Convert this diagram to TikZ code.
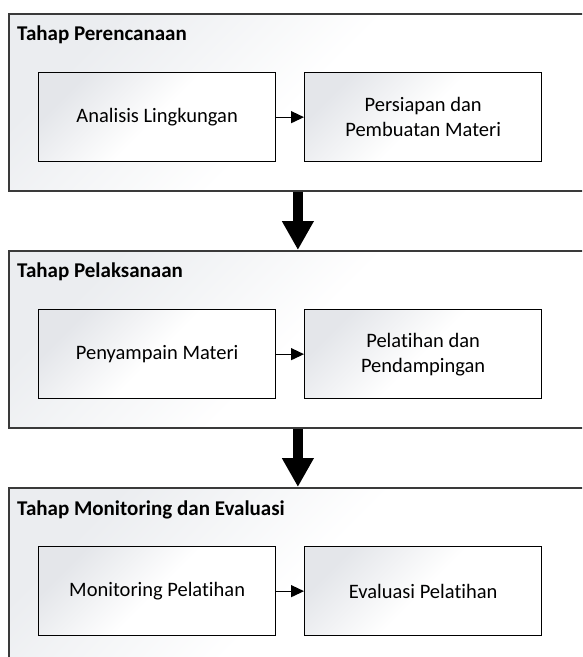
\documentclass[tikz,border=0pt]{standalone}
\usepackage{fontspec}
\setmainfont{Carlito}[Ligatures=NoCommon]
\usetikzlibrary{arrows.meta}
\definecolor{frame}{HTML}{3A3A3A}
\definecolor{boxshade}{HTML}{E4E6EA}
\definecolor{contshade}{HTML}{EBEDF0}
\tikzset{
  container/.style={draw=frame, line width=1.8pt, left color=contshade, right color=white, middle color=white, shading angle=45, anchor=north west, inner sep=0pt},
  stepbox/.style={draw=black, line width=1.3pt, left color=boxshade, right color=white, middle color=white, shading angle=45, minimum width=237pt, minimum height=89pt, align=center, font=\fontsize{20.5}{25}\selectfont, anchor=north west, inner sep=0pt},
  title/.style={anchor=base west, font=\fontsize{21}{24}\selectfont\bfseries, inner sep=0pt},
  smallarrow/.style={line width=1.3pt, -{Triangle[width=12pt,length=13pt]}},
  bigarrow/.style={line width=10pt, -{Triangle[width=30pt,length=29pt]}}
}
\begin{document}
\begin{tikzpicture}[x=1pt, y=-1pt]
\useasboundingbox (0,0) rectangle (582,657);
\clip (0,0) rectangle (582,657);
% containers
\node[container, minimum width=578pt, minimum height=177pt] (c1) at (8,13) {};
\node[container, minimum width=578pt, minimum height=177pt] (c2) at (8,250) {};
\node[container, minimum width=578pt, minimum height=190pt] (c3) at (8,487) {};
% titles
\node[title] (t1) at (17,40) {Tahap Perencanaan};
\node[title] (t2) at (17,277) {Tahap Pelaksanaan};
\node[title] (t3) at (17,515) {Tahap Monitoring dan Evaluasi};
% step boxes
\node[stepbox] (a1) at (38,72) {Analisis Lingkungan};
\node[stepbox] (b1) at (304,72) {Persiapan dan\\Pembuatan Materi};
\node[stepbox] (a2) at (38,309) {Penyampain Materi};
\node[stepbox] (b2) at (304,309) {Pelatihan dan\\Pendampingan};
\node[stepbox] (a3) at (38,546) {Monitoring Pelatihan};
\node[stepbox] (b3) at (304,546) {Evaluasi Pelatihan};
% arrows
\draw[smallarrow] (a1) -- (b1);
\draw[smallarrow] (a2) -- (b2);
\draw[smallarrow] (a3) -- (b3);
\draw[bigarrow] (c1.south) -- (c2.north);
\draw[bigarrow] (c2.south) -- (c3.north);
\end{tikzpicture}
\end{document}
